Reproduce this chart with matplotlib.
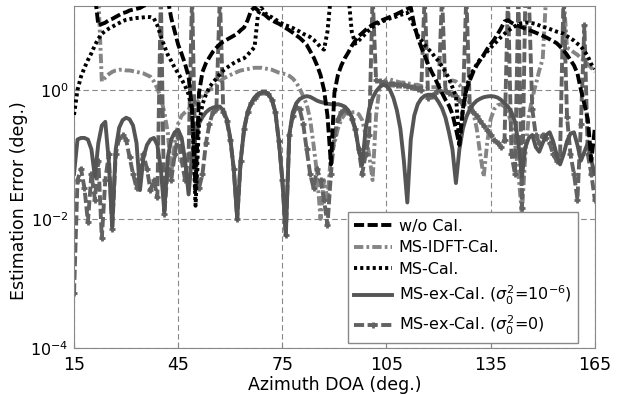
import numpy as np
import matplotlib
matplotlib.use('Agg')
import matplotlib.pyplot as plt

plt.rcParams['font.family'] = ['DejaVu Sans']
plt.rcParams['mathtext.fontset'] = 'dejavusans'

# azimuth grid, 1 deg steps
doa = np.arange(15, 166)

# estimation error (deg.), values above the top edge are clipped by the axes
wo_cal = [
    30, 30, 30, 30, 30, 30, 30, 10, 10.5, 11,            # 15
    12, 12.6, 13.5, 14.5, 15.5, 16, 17, 17.5, 18, 18.6,  # 25
    20, 21, 30, 30, 30, 30, 30, 25, 13, 8,               # 35
    5, 3.6, 2.5, 1.6, 0.5, 0.028, 0.9, 1.9, 2.6, 3.2,    # 45
    3.9, 4.5, 5.1, 5.6, 6.0, 6.4, 6.9, 7.4, 8.4, 9.3,    # 55
    12, 17, 19, 17, 15.5, 14.5, 13, 12, 11.2, 10.6,      # 65
    9.8, 9.1, 8.4, 7.7, 7.0, 6.4, 5.7, 5.0, 4.0, 3.2,    # 75
    2.4, 1.7, 1.0, 0.4, 0.07, 0.9, 1.7, 2.4, 3.1, 3.8,   # 85
    4.8, 5.8, 6.8, 7.6, 8.5, 9.4, 10.2, 10.9, 11.5, 12.2,  # 95
    12.8, 13.5, 14.2, 15, 16, 17, 18, 19, 10, 6.5,       # 105
    4.6, 3.4, 2.5, 1.9, 1.5, 1.15, 0.9, 0.7, 0.57, 0.42,  # 115
    0.25, 0.14, 0.5, 1.0, 1.4, 1.9, 2.4, 2.9, 3.5, 4.3,  # 125
    5.1, 6.0, 7.3, 9.0, 11.5, 12, 11, 10.3, 9.8, 9.3,    # 135
    8.9, 8.5, 8.1, 7.7, 7.3, 6.9, 6.5, 6.1, 5.7, 5.3,    # 145
    4.7, 4.1, 3.5, 2.9, 2.4, 1.8, 1.0, 0.6, 0.35, 0.08,  # 155
    0.25]

ms_idft = [
    30, 30, 30, 30, 30, 30, 30, 30, 1.35, 1.55,
    1.75, 1.9, 2.0, 2.05, 2.05, 2.0, 2.0, 1.95, 1.9, 1.85,
    1.8, 1.7, 1.6, 1.35, 1.05, 0.75, 0.45, 0.22, 0.05, 0.15,
    0.3, 0.4, 0.45, 0.5, 0.55, 0.6, 0.7, 0.8, 0.9, 1.0,
    1.1, 1.2, 1.35, 1.5, 1.6, 1.7, 1.8, 1.9, 2.0, 2.05,
    2.1, 2.15, 2.2, 2.2, 2.2, 2.15, 2.1, 2.05, 1.95, 1.85,
    1.8, 1.75, 1.65, 1.5, 1.3, 1.05, 0.8, 0.6, 0.35, 0.14,
    0.05, 0.01, 0.04, 0.02, 0.1, 0.15, 0.25, 0.35, 0.42, 0.45,
    0.45, 0.45, 0.42, 0.34, 0.2, 0.1, 0.04, 0.4, 1.1, 1.3,
    1.45, 1.45, 1.4, 1.35, 1.3, 1.3, 1.25, 1.25, 1.2, 1.2,
    1.15, 1.15, 1.1, 1.1, 1.1, 1.1, 1.15, 1.2, 1.3, 1.4,
    1.35, 1.2, 1.0, 0.8, 0.6, 0.45, 0.25, 0.1, 0.045, 0.15,
    0.35, 0.5, 0.58, 0.6, 0.55, 0.45, 0.3, 0.15, 0.05, 0.012,
    0.1, 0.4, 0.75, 1.2, 2.0, 3.0, 30, 30, 30, 30,
    30, 30, 4.5, 4.2, 3.8, 3.5, 3.1, 2.8, 2.5, 2.2,
    1.9]

ms_cal = [
    0.41, 1.0, 1.6, 2.2, 2.9, 3.7, 4.9, 6.2, 7.4, 8.2,
    8.9, 9.5, 10.2, 10.9, 11.6, 12.2, 12.5, 12.8, 13.0, 13.1,
    13.3, 13.5, 13.4, 12.8, 10, 6.8, 4.8, 3.5, 2.8, 2.2,
    1.8, 1.45, 1.15, 0.85, 0.5, 0.016, 0.3, 0.6, 0.85, 1.1,
    1.3, 1.5, 1.75, 2.0, 2.2, 2.4, 2.6, 2.8, 2.95, 3.1,
    3.5, 4.0, 4.6, 15, 18.6, 15.5, 14.2, 13.3, 12.3, 11.5,
    10.6, 10, 9.6, 9.1, 8.5, 8, 7.4, 7, 6.6, 6,
    5.3, 4.6, 4.2, 8, 30, 30, 30, 30, 30, 30,
    8, 5.2, 5.8, 6.6, 7.5, 8.5, 9.5, 10.2, 11, 11.6,
    12.2, 12.8, 13.2, 13.8, 14.5, 15, 15.6, 12, 9.5, 7,
    5.8, 5, 4.3, 3.8, 3.2, 2.8, 2.3, 1.9, 1.5, 1.1,
    0.8, 0.15, 0.5, 1.1, 1.6, 2.0, 2.5, 3.0, 3.4, 3.9,
    4.5, 5.1, 5.8, 6.6, 7.4, 8.2, 9, 9.7, 10.3, 10.8,
    11, 11, 10.8, 10.5, 10, 9.5, 9.2, 8.8, 8.4, 8,
    7.7, 7.4, 6.8, 6.3, 5.8, 5.2, 4.7, 4.0, 3.3, 2.5,
    2.1]

ms_ex6 = [
    0.05, 0.17, 0.18, 0.18, 0.17, 0.12, 0.045, 0.15, 0.28, 0.32,
    0.08, 0.0075, 0.12, 0.26, 0.34, 0.37, 0.35, 0.28, 0.15, 0.028,
    0.09, 0.14, 0.17, 0.18, 0.14, 0.06, 0.013, 0.09, 0.17, 0.22,
    0.24, 0.18, 0.08, 0.024, 0.1, 0.2, 0.3, 0.38, 0.45, 0.5,
    0.53, 0.55, 0.55, 0.48, 0.35, 0.18, 0.06, 0.01, 0.08, 0.25,
    0.45, 0.62, 0.76, 0.86, 0.92, 0.93, 0.86, 0.7, 0.45, 0.16,
    0.04, 0.0056, 0.2, 0.45, 0.62, 0.72, 0.77, 0.8, 0.78, 0.73,
    0.68, 0.65, 0.63, 0.61, 0.6, 0.59, 0.6, 0.58, 0.55, 0.48,
    0.38, 0.25, 0.12, 0.069, 0.25, 0.5, 0.75, 0.95, 1.1, 1.2,
    1.15, 1.0, 0.75, 0.48, 0.25, 0.08, 0.018, 0.17, 0.4, 0.6,
    0.73, 0.81, 0.84, 0.84, 0.78, 0.65, 0.52, 0.37, 0.22, 0.12,
    0.036, 0.12, 0.25, 0.38, 0.5, 0.6, 0.68, 0.73, 0.77, 0.79,
    0.8, 0.79, 0.76, 0.7, 0.62, 0.55, 0.45, 0.32, 0.15, 0.045,
    0.13, 0.18, 0.2, 0.13, 0.11, 0.15, 0.2, 0.22, 0.16, 0.1,
    0.07, 0.1, 0.16, 0.21, 0.22, 0.14, 0.08, 0.11, 0.15, 0.08,
    0.05]

ms_ex0 = [
    0.0007, 0.04, 0.06, 0.03, 0.009, 0.05, 0.02, 0.08, 0.005, 0.04,
    0.1, 0.007, 0.1, 0.18, 0.2, 0.17, 0.09, 0.05, 0.03, 0.065,
    0.1, 0.06, 0.028, 0.04, 0.022, 30, 0.012, 0.06, 0.04, 0.1,
    0.2, 0.08, 0.04, 0.1, 30, 0.06, 0.03, 0.05, 0.15, 0.3,
    0.45, 0.5, 30, 0.45, 0.33, 0.17, 0.06, 0.01, 0.08, 0.25,
    0.45, 0.62, 0.76, 0.86, 0.92, 0.93, 0.86, 0.7, 0.45, 0.16,
    0.04, 0.0056, 0.2, 0.4, 0.55, 0.5, 0.3, 0.12, 0.05, 0.03,
    0.06, 0.04, 0.02, 0.008, 0.05, 0.2, 0.35, 0.45, 0.5, 0.45,
    0.35, 0.25, 0.12, 0.05, 0.1, 0.2, 30, 1.4, 1.35, 1.3,
    1.3, 1.25, 1.25, 1.2, 1.2, 1.2, 1.15, 1.1, 1.1, 1.05,
    1.0, 30, 0.75, 0.8, 0.9, 1.0, 30, 0.95, 0.9, 0.85,
    0.8, 0.7, 0.6, 30, 0.55, 0.45, 0.4, 0.33, 0.28, 0.24,
    0.2, 0.17, 0.15, 0.13, 0.17, 30, 0.1, 0.05, 30, 0.015,
    30, 30, 0.5, 0.2, 0.15, 0.2, 0.18, 0.15, 0.1, 0.08,
    0.1, 30, 0.38, 0.1, 0.05, 0.02, 0.3, 10, 0.1, 0.05,
    0.02]

labels = ['w/o Cal.', 'MS-IDFT-Cal.', 'MS-Cal.',
          r'MS-ex-Cal. ($\sigma_0^2$=$10^{-6}$)',
          r'MS-ex-Cal. ($\sigma_0^2$=0)']

fig = plt.figure(figsize=(6.17, 3.95), dpi=100)
ax = fig.add_axes([0.12, 0.119, 0.844, 0.866])

lw = 2.8
h1, = ax.plot(doa, wo_cal, color='black', lw=lw, dashes=(2.6, 0.9), zorder=2.8)
h2, = ax.plot(doa, ms_idft, color='#858585', lw=lw, dashes=(2.4, 0.8, 0.7, 0.8), zorder=2.0)
h3, = ax.plot(doa, ms_cal, color='black', lw=lw, dashes=(0.8, 0.8), zorder=2.6)
h4, = ax.plot(doa, ms_ex6, color='#555555', lw=lw, zorder=2.4)
h5, = ax.plot(doa, ms_ex0, color='#626262', lw=lw, dashes=(2.6, 0.9),
              marker='+', ms=5, mew=2, zorder=2.2)

ax.set_yscale('log')
ax.set_xlim(15, 165)
ax.set_ylim(1e-4, 20)
ax.set_xticks([15, 45, 75, 105, 135, 165])
ax.set_yticks([1e-4, 1e-2, 1e0])
ax.yaxis.set_minor_locator(matplotlib.ticker.NullLocator())
ax.tick_params(direction='in', length=4, color='#888888')
ax.tick_params(axis='x', pad=6, labelsize=12.5)
ax.tick_params(axis='y', pad=4, labelsize=11.5)

ax.grid(True, linestyle=(0, (5, 3)), color='#888888', linewidth=0.8)
for s in ax.spines.values():
    s.set_color('#888888')

ax.set_xlabel('Azimuth DOA (deg.)', fontsize=12.5, labelpad=1)
ax.set_ylabel('Estimation Error (deg.)', fontsize=12.5)
ax.yaxis.set_label_coords(-0.088, 0.43)

leg = ax.legend([h1, h2, h3, h4, h5], labels, loc='lower right',
                bbox_to_anchor=(0.968, 0.014), borderaxespad=0,
                fontsize=11.5, handlelength=2.4, handletextpad=0.4,
                labelspacing=0.42, borderpad=0.4, numpoints=1,
                fancybox=False, framealpha=1, edgecolor='#888888')
leg.get_frame().set_linewidth(1.0)

plt.savefig('out.png', dpi=100)
